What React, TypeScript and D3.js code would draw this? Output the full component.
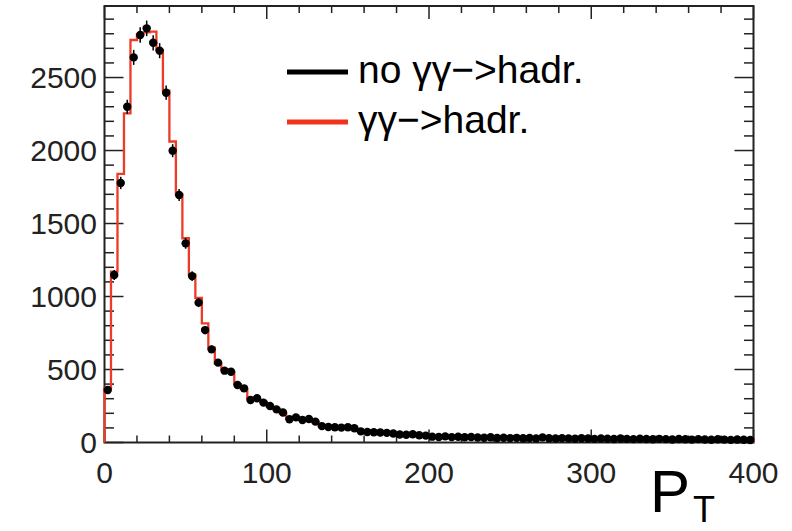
import React from "react";
import * as d3 from "d3";

const binWidth = 4;
const noGGValues = [
  360, 1147, 1778, 2300, 2638, 2791, 2837, 2738, 2684, 2396,
  1999, 1695, 1364, 1140, 958, 770, 638, 547, 492, 485,
  394, 371, 291, 303, 273, 250, 227, 205, 159, 172,
  154, 161, 143, 112, 106, 104, 102, 104, 98, 76,
  72, 70, 68, 66, 62, 55, 53, 56, 50, 47,
  40, 38, 42, 37, 39, 36, 38, 34, 33, 36,
  31, 33, 30, 32, 29, 31, 28, 35, 29, 27,
  30, 28, 26, 29, 27, 25, 28, 26, 24, 27,
  25, 23, 26, 24, 22, 25, 23, 21, 24, 22,
  20, 23, 21, 19, 22, 20, 18, 21, 19, 17,
];
const ggValues = [
  375, 1170, 1840, 2255, 2757, 2795, 2810, 2814, 2688, 2411,
  2062, 1700, 1399, 1150, 990, 816, 650, 540, 500, 480,
  400, 365, 300, 295, 278, 248, 230, 200, 162, 168,
  158, 157, 140, 115, 104, 106, 100, 102, 96, 78,
  70, 72, 66, 68, 60, 57, 52, 54, 51, 45,
  42, 37, 40, 38, 37, 37, 36, 35, 34, 34,
  32, 31, 31, 30, 30, 29, 29, 33, 28, 28,
  29, 27, 27, 28, 26, 26, 27, 25, 25, 26,
  24, 24, 25, 23, 23, 24, 22, 22, 23, 21,
  21, 22, 20, 20, 21, 19, 19, 20, 18, 18,
];
const xMajorTicks = [0, 100, 200, 300, 400];
const yMajorTicks = [0, 500, 1000, 1500, 2000, 2500];
const legendLabels = ["no \u03b3\u03b3\u2212>hadr.", "\u03b3\u03b3\u2212>hadr."];
const legendColors = ["#000000", "#f0341c"];

const W = 792;
const H = 531;
const FONT = "'Liberation Sans', Arial, Helvetica, sans-serif";

export default function App() {
  const x = d3.scaleLinear().domain([0, 400]).range([104.5, 753.5]);
  const y = d3.scaleLinear().domain([0, 2990]).range([442.5, 6]);
  const xMinor = d3.range(0, 401, 20).filter((v) => v % 100 !== 0);
  const yMinor = d3.range(0, 2990, 100).filter((v) => v % 500 !== 0);

  const stepPts: [number, number][] = [[x(0), y(0)]];
  ggValues.forEach((v, i) => {
    stepPts.push([x(i * binWidth), y(v)]);
    stepPts.push([x((i + 1) * binWidth), y(v)]);
  });
  stepPts.push([x(ggValues.length * binWidth), y(0)]);
  const line = d3.line();

  const x0 = x(0), x1 = x(400), yb = y(0), yt = y(2990);

  return (
    <div style={{ position: "absolute", left: 0, top: 0 }}>
      <svg width={W} height={H} viewBox={`0 0 ${W} ${H}`} style={{ display: "block", background: "#fff" }}>
        <rect x={0} y={0} width={W} height={H} fill="#fff" />
        {/* ticks */}
        <g stroke="#222" strokeWidth={1.5}>
          {yMajorTicks.map((t) => (
            <g key={"ym" + t}>
              <line x1={x0} x2={x0 + 19} y1={y(t)} y2={y(t)} />
              <line x1={x1} x2={x1 - 19} y1={y(t)} y2={y(t)} />
            </g>
          ))}
          {yMinor.map((t) => (
            <g key={"yn" + t}>
              <line x1={x0} x2={x0 + 9.5} y1={y(t)} y2={y(t)} />
              <line x1={x1} x2={x1 - 9.5} y1={y(t)} y2={y(t)} />
            </g>
          ))}
          {xMajorTicks.map((t) => (
            <g key={"xm" + t}>
              <line x1={x(t)} x2={x(t)} y1={yb} y2={yb - 13} />
              <line x1={x(t)} x2={x(t)} y1={yt} y2={yt + 13} />
            </g>
          ))}
          {xMinor.map((t) => (
            <g key={"xn" + t}>
              <line x1={x(t)} x2={x(t)} y1={yb} y2={yb - 7} />
              <line x1={x(t)} x2={x(t)} y1={yt} y2={yt + 7} />
            </g>
          ))}
        </g>
        <rect x={x0} y={yt} width={x1 - x0} height={yb - yt} fill="none" stroke="#222" strokeWidth={2} />
        {/* red histogram */}
        <path d={line(stepPts) || ""} fill="none" stroke="#ec3b28" strokeWidth={2.3} />
        {/* black points with error bars */}
        <g>
          {noGGValues.map((v, i) => {
            const cx = x((i + 0.5) * binWidth);
            const e = Math.sqrt(v);
            return (
              <g key={"p" + i}>
                <line x1={cx} x2={cx} y1={y(v + e)} y2={y(Math.max(0, v - e))} stroke="#000" strokeWidth={1.5} />
                <circle cx={cx} cy={y(v)} r={4.2} fill="#000" />
              </g>
            );
          })}
        </g>
        {/* tick labels */}
        <g fontFamily={FONT} fontSize={30} fill="#222">
          {yMajorTicks.map((t) => (
            <text key={"yl" + t} x={97} y={y(t)} dy="0.36em" textAnchor="end">{t}</text>
          ))}
          {xMajorTicks.map((t) => (
            <text key={"xl" + t} x={x(t)} y={483} textAnchor="middle">{t}</text>
          ))}
        </g>
        {/* axis title */}
        <text x={650} y={512} fontFamily={FONT} fontSize={60} fill="#000">P</text>
        <text x={693} y={522} fontFamily={FONT} fontSize={36} fill="#000">T</text>
        {/* legend */}
        <g fontFamily={FONT} fontSize={39} fill="#000">
          {legendLabels.map((lab, i) => (
            <g key={"lg" + i}>
              <line x1={287} x2={348} y1={72 + i * 50} y2={72 + i * 50} stroke={legendColors[i]} strokeWidth={5} />
              <text x={358} y={83 + i * 50}>{lab}</text>
            </g>
          ))}
        </g>
      </svg>
    </div>
  );
}
